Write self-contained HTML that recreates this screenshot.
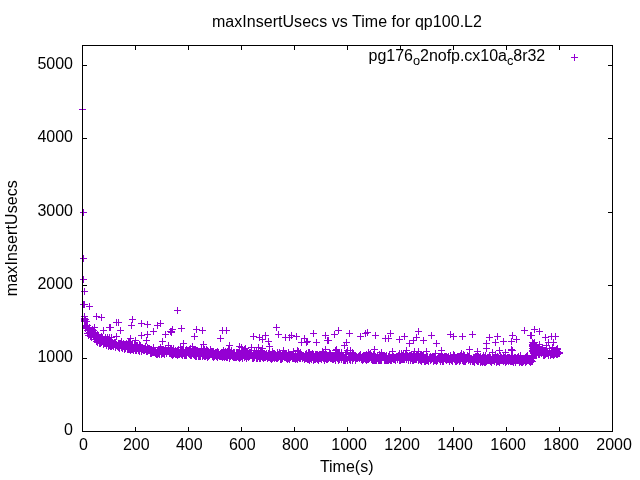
<!DOCTYPE html>
<html><head><meta charset="utf-8"><title>maxInsertUsecs vs Time for qp100.L2</title>
<style>
html,body{margin:0;padding:0;background:#fff;width:640px;height:480px;overflow:hidden}
svg{display:block}
text{font-family:"Liberation Sans",Arial,sans-serif;font-size:16px;fill:#000}
</style></head><body>
<svg width="640" height="480" viewBox="0 0 640 480">
<rect width="640" height="480" fill="#fff"/>
<text x="346.95" y="27" text-anchor="middle" letter-spacing="0.045">maxInsertUsecs vs Time for qp100.L2</text>
<text x="545.2" y="61" text-anchor="end" letter-spacing="-0.03">pg176<tspan font-size="12.8" dy="4">o</tspan><tspan dy="-4">2nofp.cx10a</tspan><tspan font-size="12.8" dy="4">c</tspan><tspan dy="-4">8r32</tspan></text>
<path d="M82.5 432v-5M82.5 45v5M135.5 432v-5M135.5 45v5M188.5 432v-5M188.5 45v5M241.5 432v-5M241.5 45v5M294.5 432v-5M294.5 45v5M347.5 432v-5M347.5 45v5M400.5 432v-5M400.5 45v5M453.5 432v-5M453.5 45v5M506.5 432v-5M506.5 45v5M559.5 432v-5M559.5 45v5M612.5 432v-5M612.5 45v5M82 431.5h5M613 431.5h-5M82 358.5h5M613 358.5h-5M82 285.5h5M613 285.5h-5M82 212.5h5M613 212.5h-5M82 138.5h5M613 138.5h-5M82 65.5h5M613 65.5h-5" stroke="#000" stroke-width="1" fill="none" shape-rendering="crispEdges"/>
<path d="M81 320.5h7M84.5 317v7M81 319.5h7M84.5 316v7M82 325.5h7M85.5 322v7M82 328.5h7M85.5 325v7M82 321.5h7M85.5 318v7M82 326.5h7M85.5 323v7M83 327.5h7M86.5 324v7M83 325.5h7M86.5 322v7M83 321.5h7M86.5 318v7M84 325.5h7M87.5 322v7M84 330.5h7M87.5 327v7M84 327.5h7M87.5 324v7M84 333.5h7M87.5 330v7M85 329.5h7M88.5 326v7M85 328.5h7M88.5 325v7M85 335.5h7M88.5 332v7M86 328.5h7M89.5 325v7M86 332.5h7M89.5 329v7M86 327.5h7M89.5 324v7M86 333.5h7M89.5 330v7M87 331.5h7M90.5 328v7M87 330.5h7M90.5 327v7M87 336.5h7M90.5 333v7M87 332.5h7M90.5 329v7M88 334.5h7M91.5 331v7M88 337.5h7M91.5 334v7M88 335.5h7M91.5 332v7M89 330.5h7M92.5 327v7M89 329.5h7M92.5 326v7M89 333.5h7M92.5 330v7M89 332.5h7M92.5 329v7M90 335.5h7M93.5 332v7M90 330.5h7M93.5 327v7M90 333.5h7M93.5 330v7M91 332.5h7M94.5 329v7M91 339.5h7M94.5 336v7M91 335.5h7M94.5 332v7M92 339.5h7M95.5 336v7M92 336.5h7M95.5 333v7M92 333.5h7M95.5 330v7M93 336.5h7M96.5 333v7M93 338.5h7M96.5 335v7M93 341.5h7M96.5 338v7M94 339.5h7M97.5 336v7M94 342.5h7M97.5 339v7M94 334.5h7M97.5 331v7M95 339.5h7M98.5 336v7M95 335.5h7M98.5 332v7M95 338.5h7M98.5 335v7M95 340.5h7M98.5 337v7M96 337.5h7M99.5 334v7M96 342.5h7M99.5 339v7M96 343.5h7M99.5 340v7M97 340.5h7M100.5 337v7M97 343.5h7M100.5 340v7M97 337.5h7M100.5 334v7M98 338.5h7M101.5 335v7M98 342.5h7M101.5 339v7M98 336.5h7M101.5 333v7M99 341.5h7M102.5 338v7M99 337.5h7M102.5 334v7M99 340.5h7M102.5 337v7M100 339.5h7M103.5 336v7M100 341.5h7M103.5 338v7M100 342.5h7M103.5 339v7M100 344.5h7M103.5 341v7M101 341.5h7M104.5 338v7M101 343.5h7M104.5 340v7M101 340.5h7M104.5 337v7M102 340.5h7M105.5 337v7M102 343.5h7M105.5 340v7M102 337.5h7M105.5 334v7M102 339.5h7M105.5 336v7M103 345.5h7M106.5 342v7M103 342.5h7M106.5 339v7M103 341.5h7M106.5 338v7M103 339.5h7M106.5 336v7M104 341.5h7M107.5 338v7M104 337.5h7M107.5 334v7M104 340.5h7M107.5 337v7M105 339.5h7M108.5 336v7M105 340.5h7M108.5 337v7M105 346.5h7M108.5 343v7M106 344.5h7M109.5 341v7M106 337.5h7M109.5 334v7M106 345.5h7M109.5 342v7M107 346.5h7M110.5 343v7M107 340.5h7M110.5 337v7M107 341.5h7M110.5 338v7M107 342.5h7M110.5 339v7M108 337.5h7M111.5 334v7M108 340.5h7M111.5 337v7M108 346.5h7M111.5 343v7M108 345.5h7M111.5 342v7M109 343.5h7M112.5 340v7M109 345.5h7M112.5 342v7M109 342.5h7M112.5 339v7M110 346.5h7M113.5 343v7M110 343.5h7M113.5 340v7M111 343.5h7M114.5 340v7M111 342.5h7M114.5 339v7M112 347.5h7M115.5 344v7M112 346.5h7M115.5 343v7M112 342.5h7M115.5 339v7M113 344.5h7M116.5 341v7M113 345.5h7M116.5 342v7M114 345.5h7M117.5 342v7M114 346.5h7M117.5 343v7M115 343.5h7M118.5 340v7M115 346.5h7M118.5 343v7M115 347.5h7M118.5 344v7M116 348.5h7M119.5 345v7M116 347.5h7M119.5 344v7M116 343.5h7M119.5 340v7M117 343.5h7M120.5 340v7M117 344.5h7M120.5 341v7M118 341.5h7M121.5 338v7M118 344.5h7M121.5 341v7M118 347.5h7M121.5 344v7M119 348.5h7M122.5 345v7M119 344.5h7M122.5 341v7M120 343.5h7M123.5 340v7M120 344.5h7M123.5 341v7M120 345.5h7M123.5 342v7M121 345.5h7M124.5 342v7M121 347.5h7M124.5 344v7M121 349.5h7M124.5 346v7M121 346.5h7M124.5 343v7M122 346.5h7M125.5 343v7M122 347.5h7M125.5 344v7M122 344.5h7M125.5 341v7M122 348.5h7M125.5 345v7M123 343.5h7M126.5 340v7M123 345.5h7M126.5 342v7M123 344.5h7M126.5 341v7M124 349.5h7M127.5 346v7M124 346.5h7M127.5 343v7M124 345.5h7M127.5 342v7M125 344.5h7M128.5 341v7M125 342.5h7M128.5 339v7M125 349.5h7M128.5 346v7M125 348.5h7M128.5 345v7M126 341.5h7M129.5 338v7M126 345.5h7M129.5 342v7M126 348.5h7M129.5 345v7M126 349.5h7M129.5 346v7M127 350.5h7M130.5 347v7M127 349.5h7M130.5 346v7M127 345.5h7M130.5 342v7M128 349.5h7M131.5 346v7M128 348.5h7M131.5 345v7M128 346.5h7M131.5 343v7M129 348.5h7M132.5 345v7M129 345.5h7M132.5 342v7M129 349.5h7M132.5 346v7M130 349.5h7M133.5 346v7M130 348.5h7M133.5 345v7M130 350.5h7M133.5 347v7M131 344.5h7M134.5 341v7M131 348.5h7M134.5 345v7M131 346.5h7M134.5 343v7M132 346.5h7M135.5 343v7M132 350.5h7M135.5 347v7M133 350.5h7M136.5 347v7M133 347.5h7M136.5 344v7M133 345.5h7M136.5 342v7M133 348.5h7M136.5 345v7M134 345.5h7M137.5 342v7M134 346.5h7M137.5 343v7M134 347.5h7M137.5 344v7M135 349.5h7M138.5 346v7M135 347.5h7M138.5 344v7M135 350.5h7M138.5 347v7M136 344.5h7M139.5 341v7M136 351.5h7M139.5 348v7M136 349.5h7M139.5 346v7M137 347.5h7M140.5 344v7M137 348.5h7M140.5 345v7M137 345.5h7M140.5 342v7M138 348.5h7M141.5 345v7M138 351.5h7M141.5 348v7M138 350.5h7M141.5 347v7M138 347.5h7M141.5 344v7M139 349.5h7M142.5 346v7M139 348.5h7M142.5 345v7M139 347.5h7M142.5 344v7M140 348.5h7M143.5 345v7M140 350.5h7M143.5 347v7M141 348.5h7M144.5 345v7M141 350.5h7M144.5 347v7M142 348.5h7M145.5 345v7M142 346.5h7M145.5 343v7M142 347.5h7M145.5 344v7M142 349.5h7M145.5 346v7M143 349.5h7M146.5 346v7M143 350.5h7M146.5 347v7M143 351.5h7M146.5 348v7M144 351.5h7M147.5 348v7M144 350.5h7M147.5 347v7M144 347.5h7M147.5 344v7M145 348.5h7M148.5 345v7M145 349.5h7M148.5 346v7M146 350.5h7M149.5 347v7M146 348.5h7M149.5 345v7M146 349.5h7M149.5 346v7M147 351.5h7M150.5 348v7M147 352.5h7M150.5 349v7M147 349.5h7M150.5 346v7M147 353.5h7M150.5 350v7M148 349.5h7M151.5 346v7M148 353.5h7M151.5 350v7M148 352.5h7M151.5 349v7M148 351.5h7M151.5 348v7M149 352.5h7M152.5 349v7M149 350.5h7M152.5 347v7M150 347.5h7M153.5 344v7M150 349.5h7M153.5 346v7M150 352.5h7M153.5 349v7M151 352.5h7M154.5 349v7M151 351.5h7M154.5 348v7M151 350.5h7M154.5 347v7M152 352.5h7M155.5 349v7M152 351.5h7M155.5 348v7M152 353.5h7M155.5 350v7M152 350.5h7M155.5 347v7M153 353.5h7M156.5 350v7M153 352.5h7M156.5 349v7M153 354.5h7M156.5 351v7M154 354.5h7M157.5 351v7M154 353.5h7M157.5 350v7M154 350.5h7M157.5 347v7M155 351.5h7M158.5 348v7M155 352.5h7M158.5 349v7M155 353.5h7M158.5 350v7M155 349.5h7M158.5 346v7M156 354.5h7M159.5 351v7M156 351.5h7M159.5 348v7M156 353.5h7M159.5 350v7M156 349.5h7M159.5 346v7M157 347.5h7M160.5 344v7M157 349.5h7M160.5 346v7M157 351.5h7M160.5 348v7M157 350.5h7M160.5 347v7M158 349.5h7M161.5 346v7M158 352.5h7M161.5 349v7M158 354.5h7M161.5 351v7M159 350.5h7M162.5 347v7M159 349.5h7M162.5 346v7M159 352.5h7M162.5 349v7M159 353.5h7M162.5 350v7M160 353.5h7M163.5 350v7M160 349.5h7M163.5 346v7M160 350.5h7M163.5 347v7M161 354.5h7M164.5 351v7M161 353.5h7M164.5 350v7M161 350.5h7M164.5 347v7M162 349.5h7M165.5 346v7M162 350.5h7M165.5 347v7M162 348.5h7M165.5 345v7M163 350.5h7M166.5 347v7M163 353.5h7M166.5 350v7M163 351.5h7M166.5 348v7M164 351.5h7M167.5 348v7M164 350.5h7M167.5 347v7M165 351.5h7M168.5 348v7M165 347.5h7M168.5 344v7M166 352.5h7M169.5 349v7M166 353.5h7M169.5 350v7M167 348.5h7M170.5 345v7M167 353.5h7M170.5 350v7M167 350.5h7M170.5 347v7M168 352.5h7M171.5 349v7M168 354.5h7M171.5 351v7M168 350.5h7M171.5 347v7M168 348.5h7M171.5 345v7M169 350.5h7M172.5 347v7M169 355.5h7M172.5 352v7M169 353.5h7M172.5 350v7M169 354.5h7M172.5 351v7M170 350.5h7M173.5 347v7M170 352.5h7M173.5 349v7M170 348.5h7M173.5 345v7M170 354.5h7M173.5 351v7M171 352.5h7M174.5 349v7M171 353.5h7M174.5 350v7M171 351.5h7M174.5 348v7M172 350.5h7M175.5 347v7M172 354.5h7M175.5 351v7M172 352.5h7M175.5 349v7M173 352.5h7M176.5 349v7M173 354.5h7M176.5 351v7M173 351.5h7M176.5 348v7M174 352.5h7M177.5 349v7M174 351.5h7M177.5 348v7M174 355.5h7M177.5 352v7M175 354.5h7M178.5 351v7M175 349.5h7M178.5 346v7M175 350.5h7M178.5 347v7M176 354.5h7M179.5 351v7M176 352.5h7M179.5 349v7M176 353.5h7M179.5 350v7M177 353.5h7M180.5 350v7M177 351.5h7M180.5 348v7M177 347.5h7M180.5 344v7M178 354.5h7M181.5 351v7M178 352.5h7M181.5 349v7M178 349.5h7M181.5 346v7M179 355.5h7M182.5 352v7M179 353.5h7M182.5 350v7M179 349.5h7M182.5 346v7M179 351.5h7M182.5 348v7M180 353.5h7M183.5 350v7M180 350.5h7M183.5 347v7M180 351.5h7M183.5 348v7M181 355.5h7M184.5 352v7M181 352.5h7M184.5 349v7M182 353.5h7M185.5 350v7M182 350.5h7M185.5 347v7M182 355.5h7M185.5 352v7M183 354.5h7M186.5 351v7M183 355.5h7M186.5 352v7M183 349.5h7M186.5 346v7M183 353.5h7M186.5 350v7M184 352.5h7M187.5 349v7M184 350.5h7M187.5 347v7M184 351.5h7M187.5 348v7M185 350.5h7M188.5 347v7M185 353.5h7M188.5 350v7M186 350.5h7M189.5 347v7M186 354.5h7M189.5 351v7M186 353.5h7M189.5 350v7M187 348.5h7M190.5 345v7M187 353.5h7M190.5 350v7M187 351.5h7M190.5 348v7M187 355.5h7M190.5 352v7M188 354.5h7M191.5 351v7M188 352.5h7M191.5 349v7M188 355.5h7M191.5 352v7M189 352.5h7M192.5 349v7M189 349.5h7M192.5 346v7M189 353.5h7M192.5 350v7M190 354.5h7M193.5 351v7M190 353.5h7M193.5 350v7M190 352.5h7M193.5 349v7M190 350.5h7M193.5 347v7M191 355.5h7M194.5 352v7M191 350.5h7M194.5 347v7M191 353.5h7M194.5 350v7M191 349.5h7M194.5 346v7M192 353.5h7M195.5 350v7M192 354.5h7M195.5 351v7M192 349.5h7M195.5 346v7M192 356.5h7M195.5 353v7M193 354.5h7M196.5 351v7M193 356.5h7M196.5 353v7M193 350.5h7M196.5 347v7M194 351.5h7M197.5 348v7M194 353.5h7M197.5 350v7M194 350.5h7M197.5 347v7M195 356.5h7M198.5 353v7M195 353.5h7M198.5 350v7M195 355.5h7M198.5 352v7M195 354.5h7M198.5 351v7M196 356.5h7M199.5 353v7M196 352.5h7M199.5 349v7M196 353.5h7M199.5 350v7M196 355.5h7M199.5 352v7M197 351.5h7M200.5 348v7M197 353.5h7M200.5 350v7M197 356.5h7M200.5 353v7M198 352.5h7M201.5 349v7M198 348.5h7M201.5 345v7M199 351.5h7M202.5 348v7M199 355.5h7M202.5 352v7M199 356.5h7M202.5 353v7M200 355.5h7M203.5 352v7M200 354.5h7M203.5 351v7M200 351.5h7M203.5 348v7M201 354.5h7M204.5 351v7M201 356.5h7M204.5 353v7M201 349.5h7M204.5 346v7M202 351.5h7M205.5 348v7M202 356.5h7M205.5 353v7M202 354.5h7M205.5 351v7M202 353.5h7M205.5 350v7M203 353.5h7M206.5 350v7M203 349.5h7M206.5 346v7M203 355.5h7M206.5 352v7M204 351.5h7M207.5 348v7M204 356.5h7M207.5 353v7M204 350.5h7M207.5 347v7M204 357.5h7M207.5 354v7M205 354.5h7M208.5 351v7M205 355.5h7M208.5 352v7M205 356.5h7M208.5 353v7M205 351.5h7M208.5 348v7M206 354.5h7M209.5 351v7M206 355.5h7M209.5 352v7M207 349.5h7M210.5 346v7M207 354.5h7M210.5 351v7M207 350.5h7M210.5 347v7M208 353.5h7M211.5 350v7M208 351.5h7M211.5 348v7M208 352.5h7M211.5 349v7M209 351.5h7M212.5 348v7M209 352.5h7M212.5 349v7M209 353.5h7M212.5 350v7M209 356.5h7M212.5 353v7M210 355.5h7M213.5 352v7M210 356.5h7M213.5 353v7M210 351.5h7M213.5 348v7M210 357.5h7M213.5 354v7M211 356.5h7M214.5 353v7M211 353.5h7M214.5 350v7M211 354.5h7M214.5 351v7M212 355.5h7M215.5 352v7M212 352.5h7M215.5 349v7M212 353.5h7M215.5 350v7M213 352.5h7M216.5 349v7M213 354.5h7M216.5 351v7M213 353.5h7M216.5 350v7M213 356.5h7M216.5 353v7M214 357.5h7M217.5 354v7M214 351.5h7M217.5 348v7M214 356.5h7M217.5 353v7M214 354.5h7M217.5 351v7M215 355.5h7M218.5 352v7M215 352.5h7M218.5 349v7M215 354.5h7M218.5 351v7M216 355.5h7M219.5 352v7M216 356.5h7M219.5 353v7M217 353.5h7M220.5 350v7M217 356.5h7M220.5 353v7M217 355.5h7M220.5 352v7M218 356.5h7M221.5 353v7M218 353.5h7M221.5 350v7M218 352.5h7M221.5 349v7M218 354.5h7M221.5 351v7M219 352.5h7M222.5 349v7M219 353.5h7M222.5 350v7M219 357.5h7M222.5 354v7M220 354.5h7M223.5 351v7M220 350.5h7M223.5 347v7M220 356.5h7M223.5 353v7M221 356.5h7M224.5 353v7M221 352.5h7M224.5 349v7M221 355.5h7M224.5 352v7M221 357.5h7M224.5 354v7M222 351.5h7M225.5 348v7M222 352.5h7M225.5 349v7M222 356.5h7M225.5 353v7M223 357.5h7M226.5 354v7M223 353.5h7M226.5 350v7M223 356.5h7M226.5 353v7M224 353.5h7M227.5 350v7M224 357.5h7M227.5 354v7M224 351.5h7M227.5 348v7M225 352.5h7M228.5 349v7M225 349.5h7M228.5 346v7M226 356.5h7M229.5 353v7M226 354.5h7M229.5 351v7M226 358.5h7M229.5 355v7M227 355.5h7M230.5 352v7M227 354.5h7M230.5 351v7M227 353.5h7M230.5 350v7M227 356.5h7M230.5 353v7M228 355.5h7M231.5 352v7M228 350.5h7M231.5 347v7M228 354.5h7M231.5 351v7M229 356.5h7M232.5 353v7M229 354.5h7M232.5 351v7M229 353.5h7M232.5 350v7M230 353.5h7M233.5 350v7M230 352.5h7M233.5 349v7M230 357.5h7M233.5 354v7M230 356.5h7M233.5 353v7M231 354.5h7M234.5 351v7M231 357.5h7M234.5 354v7M231 352.5h7M234.5 349v7M232 357.5h7M235.5 354v7M232 355.5h7M235.5 352v7M233 352.5h7M236.5 349v7M233 357.5h7M236.5 354v7M233 355.5h7M236.5 352v7M234 352.5h7M237.5 349v7M234 356.5h7M237.5 353v7M235 357.5h7M238.5 354v7M235 356.5h7M238.5 353v7M235 352.5h7M238.5 349v7M236 351.5h7M239.5 348v7M236 352.5h7M239.5 349v7M236 358.5h7M239.5 355v7M237 354.5h7M240.5 351v7M237 353.5h7M240.5 350v7M237 357.5h7M240.5 354v7M238 352.5h7M241.5 349v7M238 355.5h7M241.5 352v7M238 356.5h7M241.5 353v7M239 352.5h7M242.5 349v7M239 356.5h7M242.5 353v7M239 358.5h7M242.5 355v7M240 354.5h7M243.5 351v7M240 352.5h7M243.5 349v7M240 350.5h7M243.5 347v7M240 353.5h7M243.5 350v7M241 351.5h7M244.5 348v7M241 352.5h7M244.5 349v7M241 349.5h7M244.5 346v7M241 357.5h7M244.5 354v7M242 355.5h7M245.5 352v7M242 352.5h7M245.5 349v7M242 356.5h7M245.5 353v7M243 354.5h7M246.5 351v7M243 358.5h7M246.5 355v7M243 357.5h7M246.5 354v7M243 355.5h7M246.5 352v7M244 352.5h7M247.5 349v7M244 356.5h7M247.5 353v7M244 355.5h7M247.5 352v7M245 356.5h7M248.5 353v7M245 357.5h7M248.5 354v7M245 353.5h7M248.5 350v7M246 354.5h7M249.5 351v7M246 356.5h7M249.5 353v7M246 355.5h7M249.5 352v7M246 352.5h7M249.5 349v7M247 352.5h7M250.5 349v7M247 353.5h7M250.5 350v7M248 354.5h7M251.5 351v7M248 355.5h7M251.5 352v7M248 350.5h7M251.5 347v7M248 353.5h7M251.5 350v7M249 356.5h7M252.5 353v7M249 358.5h7M252.5 355v7M249 355.5h7M252.5 352v7M250 354.5h7M253.5 351v7M250 358.5h7M253.5 355v7M251 350.5h7M254.5 347v7M251 357.5h7M254.5 354v7M251 356.5h7M254.5 353v7M252 355.5h7M255.5 352v7M252 354.5h7M255.5 351v7M253 355.5h7M256.5 352v7M253 351.5h7M256.5 348v7M253 357.5h7M256.5 354v7M253 358.5h7M256.5 355v7M254 353.5h7M257.5 350v7M254 358.5h7M257.5 355v7M255 355.5h7M258.5 352v7M255 356.5h7M258.5 353v7M255 354.5h7M258.5 351v7M256 358.5h7M259.5 355v7M256 356.5h7M259.5 353v7M256 353.5h7M259.5 350v7M257 358.5h7M260.5 355v7M257 353.5h7M260.5 350v7M257 355.5h7M260.5 352v7M257 352.5h7M260.5 349v7M258 354.5h7M261.5 351v7M258 356.5h7M261.5 353v7M258 353.5h7M261.5 350v7M258 350.5h7M261.5 347v7M259 356.5h7M262.5 353v7M259 357.5h7M262.5 354v7M259 354.5h7M262.5 351v7M260 354.5h7M263.5 351v7M260 358.5h7M263.5 355v7M260 357.5h7M263.5 354v7M261 353.5h7M264.5 350v7M261 357.5h7M264.5 354v7M261 354.5h7M264.5 351v7M262 354.5h7M265.5 351v7M262 357.5h7M265.5 354v7M262 355.5h7M265.5 352v7M263 356.5h7M266.5 353v7M263 354.5h7M266.5 351v7M263 353.5h7M266.5 350v7M264 355.5h7M267.5 352v7M264 356.5h7M267.5 353v7M264 358.5h7M267.5 355v7M265 353.5h7M268.5 350v7M265 354.5h7M268.5 351v7M265 356.5h7M268.5 353v7M265 357.5h7M268.5 354v7M266 357.5h7M269.5 354v7M266 353.5h7M269.5 350v7M267 355.5h7M270.5 352v7M267 358.5h7M270.5 355v7M267 356.5h7M270.5 353v7M268 355.5h7M271.5 352v7M268 354.5h7M271.5 351v7M268 359.5h7M271.5 356v7M269 357.5h7M272.5 354v7M269 358.5h7M272.5 355v7M269 351.5h7M272.5 348v7M270 357.5h7M273.5 354v7M270 356.5h7M273.5 353v7M270 353.5h7M273.5 350v7M271 358.5h7M274.5 355v7M271 357.5h7M274.5 354v7M271 353.5h7M274.5 350v7M272 354.5h7M275.5 351v7M272 357.5h7M275.5 354v7M272 356.5h7M275.5 353v7M273 358.5h7M276.5 355v7M273 356.5h7M276.5 353v7M273 355.5h7M276.5 352v7M274 358.5h7M277.5 355v7M274 357.5h7M277.5 354v7M274 354.5h7M277.5 351v7M274 352.5h7M277.5 349v7M275 354.5h7M278.5 351v7M275 355.5h7M278.5 352v7M275 357.5h7M278.5 354v7M276 352.5h7M279.5 349v7M276 354.5h7M279.5 351v7M277 359.5h7M280.5 356v7M277 355.5h7M280.5 352v7M277 356.5h7M280.5 353v7M277 353.5h7M280.5 350v7M278 355.5h7M281.5 352v7M278 358.5h7M281.5 355v7M278 359.5h7M281.5 356v7M279 358.5h7M282.5 355v7M279 357.5h7M282.5 354v7M279 353.5h7M282.5 350v7M279 354.5h7M282.5 351v7M280 356.5h7M283.5 353v7M280 354.5h7M283.5 351v7M280 350.5h7M283.5 347v7M281 357.5h7M284.5 354v7M281 354.5h7M284.5 351v7M282 357.5h7M285.5 354v7M282 354.5h7M285.5 351v7M283 358.5h7M286.5 355v7M283 356.5h7M286.5 353v7M283 353.5h7M286.5 350v7M283 355.5h7M286.5 352v7M284 357.5h7M287.5 354v7M284 359.5h7M287.5 356v7M285 352.5h7M288.5 349v7M285 354.5h7M288.5 351v7M285 355.5h7M288.5 352v7M285 358.5h7M288.5 355v7M286 354.5h7M289.5 351v7M286 358.5h7M289.5 355v7M286 357.5h7M289.5 354v7M286 359.5h7M289.5 356v7M287 356.5h7M290.5 353v7M287 357.5h7M290.5 354v7M288 356.5h7M291.5 353v7M288 354.5h7M291.5 351v7M288 355.5h7M291.5 352v7M289 354.5h7M292.5 351v7M289 355.5h7M292.5 352v7M289 358.5h7M292.5 355v7M290 351.5h7M293.5 348v7M290 355.5h7M293.5 352v7M290 358.5h7M293.5 355v7M290 353.5h7M293.5 350v7M291 358.5h7M294.5 355v7M291 357.5h7M294.5 354v7M292 356.5h7M295.5 353v7M292 358.5h7M295.5 355v7M292 355.5h7M295.5 352v7M292 359.5h7M295.5 356v7M293 356.5h7M296.5 353v7M293 357.5h7M296.5 354v7M293 358.5h7M296.5 355v7M294 355.5h7M297.5 352v7M294 359.5h7M297.5 356v7M294 350.5h7M297.5 347v7M294 358.5h7M297.5 355v7M295 351.5h7M298.5 348v7M295 354.5h7M298.5 351v7M295 357.5h7M298.5 354v7M296 358.5h7M299.5 355v7M296 355.5h7M299.5 352v7M296 353.5h7M299.5 350v7M296 356.5h7M299.5 353v7M297 357.5h7M300.5 354v7M297 353.5h7M300.5 350v7M297 358.5h7M300.5 355v7M297 352.5h7M300.5 349v7M298 355.5h7M301.5 352v7M298 354.5h7M301.5 351v7M299 355.5h7M302.5 352v7M299 358.5h7M302.5 355v7M299 356.5h7M302.5 353v7M299 357.5h7M302.5 354v7M300 357.5h7M303.5 354v7M300 356.5h7M303.5 353v7M301 358.5h7M304.5 355v7M301 359.5h7M304.5 356v7M301 356.5h7M304.5 353v7M302 358.5h7M305.5 355v7M302 356.5h7M305.5 353v7M302 354.5h7M305.5 351v7M302 357.5h7M305.5 354v7M303 357.5h7M306.5 354v7M303 353.5h7M306.5 350v7M303 355.5h7M306.5 352v7M303 358.5h7M306.5 355v7M304 357.5h7M307.5 354v7M304 359.5h7M307.5 356v7M305 354.5h7M308.5 351v7M305 352.5h7M308.5 349v7M305 359.5h7M308.5 356v7M306 360.5h7M309.5 357v7M306 352.5h7M309.5 349v7M306 359.5h7M309.5 356v7M306 355.5h7M309.5 352v7M307 354.5h7M310.5 351v7M307 358.5h7M310.5 355v7M307 357.5h7M310.5 354v7M308 354.5h7M311.5 351v7M308 359.5h7M311.5 356v7M308 356.5h7M311.5 353v7M309 354.5h7M312.5 351v7M309 353.5h7M312.5 350v7M310 357.5h7M313.5 354v7M310 360.5h7M313.5 357v7M310 355.5h7M313.5 352v7M310 354.5h7M313.5 351v7M311 359.5h7M314.5 356v7M311 356.5h7M314.5 353v7M311 358.5h7M314.5 355v7M312 359.5h7M315.5 356v7M312 354.5h7M315.5 351v7M312 356.5h7M315.5 353v7M312 358.5h7M315.5 355v7M313 354.5h7M316.5 351v7M313 356.5h7M316.5 353v7M313 358.5h7M316.5 355v7M314 359.5h7M317.5 356v7M314 355.5h7M317.5 352v7M314 354.5h7M317.5 351v7M315 357.5h7M318.5 354v7M315 359.5h7M318.5 356v7M315 355.5h7M318.5 352v7M315 360.5h7M318.5 357v7M316 358.5h7M319.5 355v7M316 355.5h7M319.5 352v7M316 357.5h7M319.5 354v7M317 358.5h7M320.5 355v7M317 355.5h7M320.5 352v7M317 354.5h7M320.5 351v7M318 358.5h7M321.5 355v7M318 356.5h7M321.5 353v7M318 359.5h7M321.5 356v7M319 351.5h7M322.5 348v7M319 357.5h7M322.5 354v7M319 355.5h7M322.5 352v7M319 356.5h7M322.5 353v7M320 352.5h7M323.5 349v7M320 356.5h7M323.5 353v7M320 358.5h7M323.5 355v7M320 355.5h7M323.5 352v7M321 357.5h7M324.5 354v7M321 360.5h7M324.5 357v7M321 358.5h7M324.5 355v7M321 355.5h7M324.5 352v7M322 356.5h7M325.5 353v7M322 358.5h7M325.5 355v7M322 357.5h7M325.5 354v7M323 357.5h7M326.5 354v7M323 354.5h7M326.5 351v7M323 359.5h7M326.5 356v7M324 357.5h7M327.5 354v7M324 355.5h7M327.5 352v7M324 356.5h7M327.5 353v7M324 359.5h7M327.5 356v7M325 355.5h7M328.5 352v7M325 356.5h7M328.5 353v7M325 358.5h7M328.5 355v7M325 357.5h7M328.5 354v7M326 355.5h7M329.5 352v7M326 352.5h7M329.5 349v7M326 357.5h7M329.5 354v7M327 358.5h7M330.5 355v7M327 353.5h7M330.5 350v7M327 357.5h7M330.5 354v7M328 358.5h7M331.5 355v7M328 357.5h7M331.5 354v7M328 355.5h7M331.5 352v7M329 356.5h7M332.5 353v7M329 355.5h7M332.5 352v7M329 357.5h7M332.5 354v7M329 359.5h7M332.5 356v7M330 355.5h7M333.5 352v7M330 356.5h7M333.5 353v7M330 359.5h7M333.5 356v7M331 358.5h7M334.5 355v7M331 355.5h7M334.5 352v7M331 357.5h7M334.5 354v7M332 357.5h7M335.5 354v7M332 359.5h7M335.5 356v7M332 360.5h7M335.5 357v7M333 356.5h7M336.5 353v7M333 354.5h7M336.5 351v7M333 357.5h7M336.5 354v7M334 358.5h7M337.5 355v7M334 354.5h7M337.5 351v7M334 357.5h7M337.5 354v7M335 360.5h7M338.5 357v7M335 359.5h7M338.5 356v7M335 353.5h7M338.5 350v7M336 357.5h7M339.5 354v7M336 355.5h7M339.5 352v7M336 359.5h7M339.5 356v7M336 353.5h7M339.5 350v7M337 357.5h7M340.5 354v7M337 356.5h7M340.5 353v7M338 359.5h7M341.5 356v7M338 355.5h7M341.5 352v7M338 352.5h7M341.5 349v7M338 358.5h7M341.5 355v7M339 357.5h7M342.5 354v7M339 355.5h7M342.5 352v7M339 356.5h7M342.5 353v7M340 360.5h7M343.5 357v7M340 357.5h7M343.5 354v7M340 356.5h7M343.5 353v7M341 360.5h7M344.5 357v7M341 358.5h7M344.5 355v7M341 359.5h7M344.5 356v7M342 360.5h7M345.5 357v7M342 354.5h7M345.5 351v7M342 358.5h7M345.5 355v7M342 359.5h7M345.5 356v7M343 352.5h7M346.5 349v7M343 354.5h7M346.5 351v7M343 356.5h7M346.5 353v7M343 358.5h7M346.5 355v7M344 359.5h7M347.5 356v7M344 360.5h7M347.5 357v7M345 356.5h7M348.5 353v7M345 357.5h7M348.5 354v7M346 359.5h7M349.5 356v7M346 356.5h7M349.5 353v7M346 358.5h7M349.5 355v7M347 359.5h7M350.5 356v7M347 357.5h7M350.5 354v7M347 360.5h7M350.5 357v7M347 354.5h7M350.5 351v7M348 356.5h7M351.5 353v7M349 359.5h7M352.5 356v7M349 360.5h7M352.5 357v7M349 352.5h7M352.5 349v7M349 356.5h7M352.5 353v7M350 357.5h7M353.5 354v7M350 358.5h7M353.5 355v7M350 354.5h7M353.5 351v7M351 355.5h7M354.5 352v7M351 357.5h7M354.5 354v7M351 356.5h7M354.5 353v7M352 357.5h7M355.5 354v7M352 356.5h7M355.5 353v7M352 360.5h7M355.5 357v7M352 359.5h7M355.5 356v7M353 356.5h7M356.5 353v7M353 358.5h7M356.5 355v7M353 357.5h7M356.5 354v7M354 357.5h7M357.5 354v7M354 358.5h7M357.5 355v7M355 356.5h7M358.5 353v7M355 357.5h7M358.5 354v7M356 356.5h7M359.5 353v7M356 358.5h7M359.5 355v7M356 355.5h7M359.5 352v7M357 355.5h7M360.5 352v7M357 356.5h7M360.5 353v7M357 354.5h7M360.5 351v7M358 359.5h7M361.5 356v7M358 357.5h7M361.5 354v7M358 358.5h7M361.5 355v7M359 356.5h7M362.5 353v7M359 358.5h7M362.5 355v7M359 360.5h7M362.5 357v7M360 358.5h7M363.5 355v7M360 359.5h7M363.5 356v7M360 355.5h7M363.5 352v7M361 356.5h7M364.5 353v7M361 357.5h7M364.5 354v7M361 358.5h7M364.5 355v7M361 355.5h7M364.5 352v7M362 356.5h7M365.5 353v7M362 359.5h7M365.5 356v7M362 357.5h7M365.5 354v7M363 359.5h7M366.5 356v7M363 358.5h7M366.5 355v7M363 360.5h7M366.5 357v7M363 354.5h7M366.5 351v7M364 355.5h7M367.5 352v7M364 356.5h7M367.5 353v7M364 359.5h7M367.5 356v7M365 355.5h7M368.5 352v7M365 352.5h7M368.5 349v7M365 359.5h7M368.5 356v7M366 356.5h7M369.5 353v7M366 358.5h7M369.5 355v7M366 354.5h7M369.5 351v7M367 353.5h7M370.5 350v7M367 356.5h7M370.5 353v7M367 357.5h7M370.5 354v7M368 356.5h7M371.5 353v7M368 355.5h7M371.5 352v7M368 357.5h7M371.5 354v7M368 359.5h7M371.5 356v7M369 357.5h7M372.5 354v7M369 359.5h7M372.5 356v7M369 360.5h7M372.5 357v7M370 354.5h7M373.5 351v7M370 359.5h7M373.5 356v7M370 360.5h7M373.5 357v7M371 355.5h7M374.5 352v7M371 356.5h7M374.5 353v7M371 360.5h7M374.5 357v7M372 356.5h7M375.5 353v7M372 360.5h7M375.5 357v7M372 357.5h7M375.5 354v7M373 360.5h7M376.5 357v7M373 358.5h7M376.5 355v7M374 357.5h7M377.5 354v7M374 355.5h7M377.5 352v7M374 358.5h7M377.5 355v7M375 359.5h7M378.5 356v7M375 360.5h7M378.5 357v7M376 354.5h7M379.5 351v7M376 360.5h7M379.5 357v7M376 359.5h7M379.5 356v7M377 355.5h7M380.5 352v7M377 357.5h7M380.5 354v7M377 356.5h7M380.5 353v7M377 360.5h7M380.5 357v7M378 352.5h7M381.5 349v7M378 357.5h7M381.5 354v7M378 360.5h7M381.5 357v7M379 355.5h7M382.5 352v7M379 357.5h7M382.5 354v7M380 357.5h7M383.5 354v7M380 355.5h7M383.5 352v7M380 356.5h7M383.5 353v7M381 356.5h7M384.5 353v7M381 355.5h7M384.5 352v7M381 360.5h7M384.5 357v7M382 358.5h7M385.5 355v7M382 359.5h7M385.5 356v7M382 360.5h7M385.5 357v7M382 356.5h7M385.5 353v7M383 359.5h7M386.5 356v7M383 356.5h7M386.5 353v7M383 360.5h7M386.5 357v7M383 355.5h7M386.5 352v7M384 360.5h7M387.5 357v7M384 358.5h7M387.5 355v7M384 359.5h7M387.5 356v7M385 360.5h7M388.5 357v7M385 356.5h7M388.5 353v7M385 357.5h7M388.5 354v7M385 359.5h7M388.5 356v7M386 355.5h7M389.5 352v7M386 358.5h7M389.5 355v7M386 359.5h7M389.5 356v7M387 358.5h7M390.5 355v7M387 360.5h7M390.5 357v7M387 357.5h7M390.5 354v7M388 360.5h7M391.5 357v7M388 357.5h7M391.5 354v7M388 358.5h7M391.5 355v7M389 357.5h7M392.5 354v7M389 356.5h7M392.5 353v7M389 358.5h7M392.5 355v7M390 356.5h7M393.5 353v7M390 359.5h7M393.5 356v7M390 358.5h7M393.5 355v7M391 358.5h7M394.5 355v7M391 357.5h7M394.5 354v7M391 359.5h7M394.5 356v7M392 360.5h7M395.5 357v7M392 357.5h7M395.5 354v7M392 358.5h7M395.5 355v7M393 357.5h7M396.5 354v7M393 356.5h7M396.5 353v7M394 357.5h7M397.5 354v7M394 358.5h7M397.5 355v7M394 356.5h7M397.5 353v7M394 359.5h7M397.5 356v7M395 357.5h7M398.5 354v7M395 356.5h7M398.5 353v7M395 355.5h7M398.5 352v7M396 358.5h7M399.5 355v7M396 356.5h7M399.5 353v7M396 360.5h7M399.5 357v7M396 353.5h7M399.5 350v7M397 358.5h7M400.5 355v7M397 360.5h7M400.5 357v7M397 359.5h7M400.5 356v7M398 359.5h7M401.5 356v7M398 358.5h7M401.5 355v7M398 357.5h7M401.5 354v7M398 353.5h7M401.5 350v7M399 355.5h7M402.5 352v7M399 356.5h7M402.5 353v7M399 357.5h7M402.5 354v7M399 359.5h7M402.5 356v7M400 359.5h7M403.5 356v7M400 354.5h7M403.5 351v7M400 356.5h7M403.5 353v7M401 357.5h7M404.5 354v7M401 359.5h7M404.5 356v7M401 356.5h7M404.5 353v7M402 353.5h7M405.5 350v7M402 356.5h7M405.5 353v7M403 358.5h7M406.5 355v7M403 359.5h7M406.5 356v7M403 356.5h7M406.5 353v7M404 355.5h7M407.5 352v7M404 357.5h7M407.5 354v7M405 360.5h7M408.5 357v7M405 356.5h7M408.5 353v7M405 358.5h7M408.5 355v7M405 359.5h7M408.5 356v7M406 357.5h7M409.5 354v7M406 355.5h7M409.5 352v7M406 356.5h7M409.5 353v7M407 360.5h7M410.5 357v7M407 358.5h7M410.5 355v7M407 356.5h7M410.5 353v7M407 355.5h7M410.5 352v7M408 358.5h7M411.5 355v7M408 355.5h7M411.5 352v7M408 357.5h7M411.5 354v7M408 356.5h7M411.5 353v7M409 358.5h7M412.5 355v7M409 356.5h7M412.5 353v7M409 357.5h7M412.5 354v7M409 360.5h7M412.5 357v7M410 357.5h7M413.5 354v7M410 355.5h7M413.5 352v7M410 360.5h7M413.5 357v7M411 359.5h7M414.5 356v7M411 358.5h7M414.5 355v7M411 356.5h7M414.5 353v7M412 356.5h7M415.5 353v7M412 358.5h7M415.5 355v7M412 359.5h7M415.5 356v7M413 359.5h7M416.5 356v7M413 354.5h7M416.5 351v7M414 356.5h7M417.5 353v7M414 354.5h7M417.5 351v7M415 356.5h7M418.5 353v7M415 360.5h7M418.5 357v7M415 359.5h7M418.5 356v7M416 356.5h7M419.5 353v7M416 359.5h7M419.5 356v7M416 358.5h7M419.5 355v7M417 355.5h7M420.5 352v7M417 360.5h7M420.5 357v7M417 357.5h7M420.5 354v7M418 361.5h7M421.5 358v7M418 355.5h7M421.5 352v7M418 356.5h7M421.5 353v7M419 359.5h7M422.5 356v7M419 358.5h7M422.5 355v7M419 355.5h7M422.5 352v7M420 354.5h7M423.5 351v7M420 358.5h7M423.5 355v7M420 359.5h7M423.5 356v7M421 359.5h7M424.5 356v7M421 361.5h7M424.5 358v7M421 358.5h7M424.5 355v7M422 358.5h7M425.5 355v7M422 359.5h7M425.5 356v7M422 361.5h7M425.5 358v7M423 356.5h7M426.5 353v7M423 360.5h7M426.5 357v7M423 358.5h7M426.5 355v7M424 356.5h7M427.5 353v7M424 359.5h7M427.5 356v7M424 360.5h7M427.5 357v7M425 361.5h7M428.5 358v7M425 360.5h7M428.5 357v7M425 359.5h7M428.5 356v7M426 357.5h7M429.5 354v7M427 360.5h7M430.5 357v7M427 356.5h7M430.5 353v7M428 359.5h7M431.5 356v7M428 357.5h7M431.5 354v7M429 357.5h7M432.5 354v7M429 358.5h7M432.5 355v7M429 356.5h7M432.5 353v7M430 358.5h7M433.5 355v7M430 361.5h7M433.5 358v7M430 357.5h7M433.5 354v7M430 359.5h7M433.5 356v7M431 356.5h7M434.5 353v7M431 359.5h7M434.5 356v7M431 360.5h7M434.5 357v7M432 360.5h7M435.5 357v7M432 356.5h7M435.5 353v7M432 353.5h7M435.5 350v7M433 361.5h7M436.5 358v7M433 359.5h7M436.5 356v7M433 360.5h7M436.5 357v7M434 358.5h7M437.5 355v7M434 360.5h7M437.5 357v7M434 359.5h7M437.5 356v7M435 356.5h7M438.5 353v7M435 358.5h7M438.5 355v7M435 357.5h7M438.5 354v7M436 357.5h7M439.5 354v7M436 359.5h7M439.5 356v7M436 356.5h7M439.5 353v7M437 361.5h7M440.5 358v7M437 357.5h7M440.5 354v7M437 356.5h7M440.5 353v7M438 355.5h7M441.5 352v7M438 358.5h7M441.5 355v7M438 354.5h7M441.5 351v7M438 359.5h7M441.5 356v7M439 357.5h7M442.5 354v7M439 356.5h7M442.5 353v7M439 361.5h7M442.5 358v7M439 358.5h7M442.5 355v7M440 361.5h7M443.5 358v7M440 359.5h7M443.5 356v7M440 360.5h7M443.5 357v7M441 358.5h7M444.5 355v7M441 357.5h7M444.5 354v7M441 356.5h7M444.5 353v7M442 356.5h7M445.5 353v7M442 358.5h7M445.5 355v7M442 359.5h7M445.5 356v7M443 358.5h7M446.5 355v7M443 360.5h7M446.5 357v7M443 356.5h7M446.5 353v7M444 358.5h7M447.5 355v7M444 359.5h7M447.5 356v7M444 357.5h7M447.5 354v7M445 357.5h7M448.5 354v7M445 356.5h7M448.5 353v7M445 359.5h7M448.5 356v7M446 360.5h7M449.5 357v7M446 361.5h7M449.5 358v7M446 359.5h7M449.5 356v7M447 359.5h7M450.5 356v7M447 357.5h7M450.5 354v7M447 355.5h7M450.5 352v7M448 358.5h7M451.5 355v7M448 360.5h7M451.5 357v7M448 359.5h7M451.5 356v7M449 361.5h7M452.5 358v7M449 360.5h7M452.5 357v7M450 354.5h7M453.5 351v7M450 357.5h7M453.5 354v7M450 356.5h7M453.5 353v7M451 357.5h7M454.5 354v7M451 359.5h7M454.5 356v7M451 356.5h7M454.5 353v7M451 355.5h7M454.5 352v7M452 359.5h7M455.5 356v7M452 358.5h7M455.5 355v7M452 361.5h7M455.5 358v7M453 358.5h7M456.5 355v7M453 357.5h7M456.5 354v7M453 361.5h7M456.5 358v7M454 359.5h7M457.5 356v7M454 360.5h7M457.5 357v7M454 356.5h7M457.5 353v7M455 356.5h7M458.5 353v7M455 358.5h7M458.5 355v7M455 359.5h7M458.5 356v7M456 361.5h7M459.5 358v7M456 357.5h7M459.5 354v7M457 358.5h7M460.5 355v7M457 359.5h7M460.5 356v7M457 355.5h7M460.5 352v7M457 360.5h7M460.5 357v7M458 353.5h7M461.5 350v7M458 358.5h7M461.5 355v7M458 357.5h7M461.5 354v7M459 356.5h7M462.5 353v7M459 360.5h7M462.5 357v7M460 359.5h7M463.5 356v7M460 354.5h7M463.5 351v7M460 361.5h7M463.5 358v7M461 355.5h7M464.5 352v7M461 361.5h7M464.5 358v7M461 360.5h7M464.5 357v7M462 358.5h7M465.5 355v7M462 360.5h7M465.5 357v7M462 361.5h7M465.5 358v7M463 359.5h7M466.5 356v7M463 358.5h7M466.5 355v7M464 355.5h7M467.5 352v7M464 358.5h7M467.5 355v7M464 356.5h7M467.5 353v7M464 357.5h7M467.5 354v7M465 357.5h7M468.5 354v7M465 360.5h7M468.5 357v7M465 359.5h7M468.5 356v7M465 356.5h7M468.5 353v7M466 358.5h7M469.5 355v7M466 359.5h7M469.5 356v7M466 356.5h7M469.5 353v7M467 358.5h7M470.5 355v7M467 360.5h7M470.5 357v7M467 361.5h7M470.5 358v7M467 359.5h7M470.5 356v7M468 359.5h7M471.5 356v7M468 358.5h7M471.5 355v7M469 361.5h7M472.5 358v7M469 359.5h7M472.5 356v7M470 357.5h7M473.5 354v7M470 361.5h7M473.5 358v7M471 358.5h7M474.5 355v7M471 357.5h7M474.5 354v7M471 362.5h7M474.5 359v7M472 358.5h7M475.5 355v7M472 356.5h7M475.5 353v7M473 360.5h7M476.5 357v7M473 358.5h7M476.5 355v7M473 356.5h7M476.5 353v7M474 357.5h7M477.5 354v7M474 360.5h7M477.5 357v7M474 358.5h7M477.5 355v7M474 361.5h7M477.5 358v7M475 361.5h7M478.5 358v7M475 359.5h7M478.5 356v7M475 356.5h7M478.5 353v7M476 358.5h7M479.5 355v7M476 357.5h7M479.5 354v7M477 361.5h7M480.5 358v7M477 357.5h7M480.5 354v7M477 362.5h7M480.5 359v7M477 356.5h7M480.5 353v7M478 361.5h7M481.5 358v7M478 360.5h7M481.5 357v7M478 358.5h7M481.5 355v7M479 359.5h7M482.5 356v7M479 362.5h7M482.5 359v7M479 360.5h7M482.5 357v7M479 357.5h7M482.5 354v7M480 361.5h7M483.5 358v7M480 355.5h7M483.5 352v7M480 358.5h7M483.5 355v7M480 356.5h7M483.5 353v7M481 359.5h7M484.5 356v7M481 362.5h7M484.5 359v7M481 357.5h7M484.5 354v7M482 361.5h7M485.5 358v7M482 358.5h7M485.5 355v7M482 355.5h7M485.5 352v7M482 362.5h7M485.5 359v7M483 358.5h7M486.5 355v7M483 361.5h7M486.5 358v7M483 360.5h7M486.5 357v7M484 359.5h7M487.5 356v7M484 360.5h7M487.5 357v7M484 357.5h7M487.5 354v7M485 360.5h7M488.5 357v7M485 357.5h7M488.5 354v7M486 360.5h7M489.5 357v7M486 357.5h7M489.5 354v7M486 356.5h7M489.5 353v7M487 361.5h7M490.5 358v7M487 357.5h7M490.5 354v7M488 359.5h7M491.5 356v7M488 362.5h7M491.5 359v7M488 361.5h7M491.5 358v7M489 360.5h7M492.5 357v7M489 358.5h7M492.5 355v7M489 357.5h7M492.5 354v7M490 360.5h7M493.5 357v7M490 357.5h7M493.5 354v7M491 358.5h7M494.5 355v7M491 361.5h7M494.5 358v7M491 357.5h7M494.5 354v7M492 357.5h7M495.5 354v7M492 358.5h7M495.5 355v7M492 354.5h7M495.5 351v7M493 358.5h7M496.5 355v7M493 362.5h7M496.5 359v7M493 360.5h7M496.5 357v7M493 357.5h7M496.5 354v7M494 361.5h7M497.5 358v7M494 356.5h7M497.5 353v7M494 360.5h7M497.5 357v7M495 361.5h7M498.5 358v7M495 357.5h7M498.5 354v7M495 358.5h7M498.5 355v7M496 362.5h7M499.5 359v7M496 361.5h7M499.5 358v7M496 359.5h7M499.5 356v7M496 358.5h7M499.5 355v7M497 357.5h7M500.5 354v7M497 355.5h7M500.5 352v7M497 360.5h7M500.5 357v7M498 360.5h7M501.5 357v7M498 359.5h7M501.5 356v7M498 357.5h7M501.5 354v7M499 360.5h7M502.5 357v7M499 359.5h7M502.5 356v7M499 358.5h7M502.5 355v7M500 361.5h7M503.5 358v7M500 355.5h7M503.5 352v7M500 360.5h7M503.5 357v7M500 359.5h7M503.5 356v7M501 357.5h7M504.5 354v7M501 360.5h7M504.5 357v7M501 358.5h7M504.5 355v7M502 362.5h7M505.5 359v7M502 358.5h7M505.5 355v7M502 361.5h7M505.5 358v7M502 360.5h7M505.5 357v7M503 359.5h7M506.5 356v7M503 358.5h7M506.5 355v7M503 361.5h7M506.5 358v7M504 359.5h7M507.5 356v7M504 360.5h7M507.5 357v7M504 357.5h7M507.5 354v7M504 358.5h7M507.5 355v7M505 360.5h7M508.5 357v7M505 357.5h7M508.5 354v7M505 361.5h7M508.5 358v7M506 359.5h7M509.5 356v7M506 360.5h7M509.5 357v7M506 357.5h7M509.5 354v7M507 358.5h7M510.5 355v7M507 361.5h7M510.5 358v7M508 357.5h7M511.5 354v7M508 359.5h7M511.5 356v7M508 361.5h7M511.5 358v7M508 358.5h7M511.5 355v7M509 361.5h7M512.5 358v7M509 359.5h7M512.5 356v7M509 357.5h7M512.5 354v7M510 358.5h7M513.5 355v7M510 362.5h7M513.5 359v7M510 361.5h7M513.5 358v7M511 360.5h7M514.5 357v7M511 358.5h7M514.5 355v7M511 357.5h7M514.5 354v7M512 362.5h7M515.5 359v7M512 357.5h7M515.5 354v7M512 359.5h7M515.5 356v7M513 358.5h7M516.5 355v7M513 360.5h7M516.5 357v7M514 358.5h7M517.5 355v7M514 357.5h7M517.5 354v7M514 360.5h7M517.5 357v7M515 356.5h7M518.5 353v7M515 358.5h7M518.5 355v7M515 360.5h7M518.5 357v7M515 359.5h7M518.5 356v7M516 362.5h7M519.5 359v7M516 359.5h7M519.5 356v7M516 361.5h7M519.5 358v7M517 361.5h7M520.5 358v7M517 358.5h7M520.5 355v7M517 357.5h7M520.5 354v7M517 355.5h7M520.5 352v7M518 359.5h7M521.5 356v7M518 361.5h7M521.5 358v7M518 358.5h7M521.5 355v7M518 362.5h7M521.5 359v7M519 359.5h7M522.5 356v7M519 358.5h7M522.5 355v7M519 362.5h7M522.5 359v7M520 358.5h7M523.5 355v7M520 361.5h7M523.5 358v7M520 360.5h7M523.5 357v7M521 359.5h7M524.5 356v7M521 360.5h7M524.5 357v7M522 357.5h7M525.5 354v7M522 358.5h7M525.5 355v7M522 362.5h7M525.5 359v7M523 356.5h7M526.5 353v7M523 358.5h7M526.5 355v7M523 361.5h7M526.5 358v7M524 360.5h7M527.5 357v7M524 358.5h7M527.5 355v7M524 355.5h7M527.5 352v7M525 359.5h7M528.5 356v7M525 360.5h7M528.5 357v7M526 361.5h7M529.5 358v7M526 359.5h7M529.5 356v7M527 361.5h7M530.5 358v7M527 358.5h7M530.5 355v7M527 359.5h7M530.5 356v7M527 362.5h7M530.5 359v7M528 361.5h7M531.5 358v7M528 357.5h7M531.5 354v7M528 360.5h7M531.5 357v7M528 355.5h7M531.5 352v7M529 361.5h7M532.5 358v7M529 358.5h7M532.5 355v7M529 351.5h7M532.5 348v7M529 345.5h7M532.5 342v7M530 352.5h7M533.5 349v7M530 347.5h7M533.5 344v7M530 353.5h7M533.5 350v7M531 351.5h7M534.5 348v7M531 345.5h7M534.5 342v7M531 342.5h7M534.5 339v7M532 351.5h7M535.5 348v7M532 353.5h7M535.5 350v7M532 352.5h7M535.5 349v7M532 347.5h7M535.5 344v7M533 349.5h7M536.5 346v7M533 351.5h7M536.5 348v7M533 348.5h7M536.5 345v7M533 354.5h7M536.5 351v7M534 348.5h7M537.5 345v7M534 350.5h7M537.5 347v7M535 354.5h7M538.5 351v7M535 348.5h7M538.5 345v7M535 351.5h7M538.5 348v7M536 354.5h7M539.5 351v7M536 352.5h7M539.5 349v7M536 349.5h7M539.5 346v7M536 348.5h7M539.5 345v7M537 351.5h7M540.5 348v7M537 352.5h7M540.5 349v7M537 349.5h7M540.5 346v7M538 353.5h7M541.5 350v7M538 349.5h7M541.5 346v7M538 351.5h7M541.5 348v7M539 348.5h7M542.5 345v7M539 352.5h7M542.5 349v7M539 349.5h7M542.5 346v7M540 350.5h7M543.5 347v7M540 355.5h7M543.5 352v7M540 352.5h7M543.5 349v7M541 350.5h7M544.5 347v7M541 351.5h7M544.5 348v7M541 355.5h7M544.5 352v7M542 353.5h7M545.5 350v7M542 354.5h7M545.5 351v7M542 350.5h7M545.5 347v7M543 351.5h7M546.5 348v7M543 345.5h7M546.5 342v7M543 353.5h7M546.5 350v7M544 351.5h7M547.5 348v7M544 353.5h7M547.5 350v7M544 352.5h7M547.5 349v7M545 355.5h7M548.5 352v7M545 354.5h7M548.5 351v7M545 353.5h7M548.5 350v7M546 350.5h7M549.5 347v7M546 352.5h7M549.5 349v7M546 351.5h7M549.5 348v7M546 348.5h7M549.5 345v7M547 355.5h7M550.5 352v7M547 353.5h7M550.5 350v7M548 352.5h7M551.5 349v7M548 351.5h7M551.5 348v7M548 354.5h7M551.5 351v7M549 347.5h7M552.5 344v7M549 351.5h7M552.5 348v7M549 354.5h7M552.5 351v7M549 350.5h7M552.5 347v7M550 350.5h7M553.5 347v7M550 352.5h7M553.5 349v7M550 355.5h7M553.5 352v7M551 354.5h7M554.5 351v7M551 350.5h7M554.5 347v7M552 352.5h7M555.5 349v7M552 353.5h7M555.5 350v7M553 353.5h7M556.5 350v7M553 354.5h7M556.5 351v7M553 349.5h7M556.5 346v7M554 349.5h7M557.5 346v7M554 348.5h7M557.5 345v7M554 354.5h7M557.5 351v7M554 351.5h7M557.5 348v7M555 353.5h7M558.5 350v7M555 352.5h7M558.5 349v7M556 352.5h7M559.5 349v7M556 353.5h7M559.5 350v7M529 342.5h7M532.5 339v7M529 344.5h7M532.5 341v7M529 346.5h7M532.5 343v7M529 348.5h7M532.5 345v7M529 350.5h7M532.5 347v7M530 343.5h7M533.5 340v7M530 345.5h7M533.5 342v7M530 349.5h7M533.5 346v7M531 344.5h7M534.5 341v7M531 346.5h7M534.5 343v7M531 348.5h7M534.5 345v7M531 350.5h7M534.5 347v7M531 353.5h7M534.5 350v7M532 345.5h7M535.5 342v7M532 354.5h7M535.5 351v7M533 346.5h7M536.5 343v7M533 352.5h7M536.5 349v7M533 355.5h7M536.5 352v7M79 109.5h7M82.5 106v7M80 212.5h7M83.5 209v7M80 258.5h7M83.5 255v7M80 279.5h7M83.5 276v7M81 291.5h7M84.5 288v7M80 304.5h7M83.5 301v7M81 304.5h7M84.5 301v7M81 316.5h7M84.5 313v7M81 318.5h7M84.5 315v7M81 321.5h7M84.5 318v7M82 319.5h7M85.5 316v7M508 350.5h7M511.5 347v7M508 349.5h7M511.5 346v7M536 344.5h7M539.5 341v7M236 346.5h7M239.5 343v7M324 340.5h7M327.5 337v7M303 342.5h7M306.5 339v7M332 350.5h7M335.5 347v7M86 306.5h7M89.5 303v7M93 316.5h7M96.5 313v7M98 317.5h7M101.5 314v7M91 327.5h7M94.5 324v7M107 327.5h7M110.5 324v7M106 327.5h7M109.5 324v7M100 330.5h7M103.5 327v7M113 322.5h7M116.5 319v7M115 322.5h7M118.5 319v7M117 330.5h7M120.5 327v7M129 319.5h7M132.5 316v7M128 325.5h7M131.5 322v7M138 323.5h7M141.5 320v7M144 324.5h7M147.5 321v7M154 325.5h7M157.5 322v7M150 331.5h7M153.5 328v7M138 335.5h7M141.5 332v7M144 334.5h7M147.5 331v7M113 336.5h7M116.5 333v7M127 338.5h7M130.5 335v7M132 340.5h7M135.5 337v7M143 340.5h7M146.5 337v7M174 310.5h7M177.5 307v7M157 323.5h7M160.5 320v7M169 329.5h7M172.5 326v7M168 331.5h7M171.5 328v7M167 331.5h7M170.5 328v7M168 332.5h7M171.5 329v7M178 328.5h7M181.5 325v7M162 334.5h7M165.5 331v7M159 341.5h7M162.5 338v7M193 329.5h7M196.5 326v7M199 330.5h7M202.5 327v7M191 336.5h7M194.5 333v7M180 343.5h7M183.5 340v7M200 344.5h7M203.5 341v7M219 330.5h7M222.5 327v7M223 330.5h7M226.5 327v7M217 338.5h7M220.5 335v7M226 345.5h7M229.5 342v7M165 345.5h7M168.5 342v7M189 346.5h7M192.5 343v7M273 327.5h7M276.5 324v7M275 334.5h7M278.5 331v7M250 336.5h7M253.5 333v7M256 337.5h7M259.5 334v7M259 339.5h7M262.5 336v7M262 335.5h7M265.5 332v7M265 341.5h7M268.5 338v7M266 346.5h7M269.5 343v7M259 348.5h7M262.5 345v7M282 337.5h7M285.5 334v7M286 337.5h7M289.5 334v7M288 335.5h7M291.5 332v7M293 336.5h7M296.5 333v7M298 342.5h7M301.5 339v7M301 338.5h7M304.5 335v7M304 341.5h7M307.5 338v7M310 333.5h7M313.5 330v7M313 342.5h7M316.5 339v7M238 347.5h7M241.5 344v7M242 348.5h7M245.5 345v7M248 347.5h7M251.5 344v7M255 347.5h7M258.5 344v7M335 330.5h7M338.5 327v7M331 334.5h7M334.5 331v7M322 335.5h7M325.5 332v7M325 340.5h7M328.5 337v7M346 333.5h7M349.5 330v7M343 342.5h7M346.5 339v7M341 345.5h7M344.5 342v7M357 336.5h7M360.5 333v7M362 333.5h7M365.5 330v7M364 332.5h7M367.5 329v7M372 335.5h7M375.5 332v7M387 333.5h7M390.5 330v7M382 338.5h7M385.5 335v7M385 338.5h7M388.5 335v7M396 339.5h7M399.5 336v7M322 349.5h7M325.5 346v7M333 349.5h7M336.5 346v7M344 350.5h7M347.5 347v7M347 350.5h7M350.5 347v7M371 349.5h7M374.5 346v7M389 351.5h7M392.5 348v7M415 331.5h7M418.5 328v7M401 336.5h7M404.5 333v7M413 337.5h7M416.5 334v7M410 340.5h7M413.5 337v7M406 343.5h7M409.5 340v7M420 340.5h7M423.5 337v7M428 335.5h7M431.5 332v7M433 343.5h7M436.5 340v7M447 334.5h7M450.5 331v7M450 336.5h7M453.5 333v7M459 336.5h7M462.5 333v7M469 334.5h7M472.5 331v7M403 350.5h7M406.5 347v7M411 351.5h7M414.5 348v7M415 351.5h7M418.5 348v7M423 351.5h7M426.5 348v7M438 350.5h7M441.5 347v7M466 349.5h7M469.5 346v7M474 351.5h7M477.5 348v7M486 337.5h7M489.5 334v7M494 336.5h7M497.5 333v7M483 343.5h7M486.5 340v7M483 348.5h7M486.5 345v7M492 342.5h7M495.5 339v7M500 341.5h7M503.5 338v7M509 335.5h7M512.5 332v7M513 339.5h7M516.5 336v7M508 341.5h7M511.5 338v7M496 350.5h7M499.5 347v7M489 352.5h7M492.5 349v7M502 352.5h7M505.5 349v7M509 350.5h7M512.5 347v7M521 330.5h7M524.5 327v7M531 329.5h7M534.5 326v7M536 331.5h7M539.5 328v7M528 335.5h7M531.5 332v7M527 335.5h7M530.5 332v7M542 337.5h7M545.5 334v7M548 336.5h7M551.5 333v7M552 336.5h7M555.5 333v7M550 342.5h7M553.5 339v7M545 342.5h7M548.5 339v7M571 57.5h7M574.5 54v7" stroke="#9400d3" stroke-width="1" fill="none" shape-rendering="crispEdges"/>
<rect x="82.5" y="45.5" width="530" height="386" stroke="#000" stroke-width="1" fill="none" shape-rendering="crispEdges"/>
<text x="83.5" y="450.3" text-anchor="middle">0</text><text x="136.25" y="450.3" text-anchor="middle">200</text><text x="189.25" y="450.3" text-anchor="middle">400</text><text x="242.25" y="450.3" text-anchor="middle">600</text><text x="295.25" y="450.3" text-anchor="middle">800</text><text x="349.1" y="450.3" text-anchor="middle">1000</text><text x="402.1" y="450.3" text-anchor="middle">1200</text><text x="455.1" y="450.3" text-anchor="middle">1400</text><text x="508.1" y="450.3" text-anchor="middle">1600</text><text x="561.1" y="450.3" text-anchor="middle">1800</text><text x="614.1" y="450.3" text-anchor="middle">2000</text>
<text x="73" y="435.4" text-anchor="end">0</text><text x="73" y="362.4" text-anchor="end">1000</text><text x="73" y="289.4" text-anchor="end">2000</text><text x="73" y="216.4" text-anchor="end">3000</text><text x="73" y="142.4" text-anchor="end">4000</text><text x="73" y="69.4" text-anchor="end">5000</text>
<text x="346.7" y="472" text-anchor="middle">Time(s)</text>
<text transform="translate(17.1,238.1) rotate(-90)" text-anchor="middle" letter-spacing="0.1">maxInsertUsecs</text>
</svg>
</body></html>
